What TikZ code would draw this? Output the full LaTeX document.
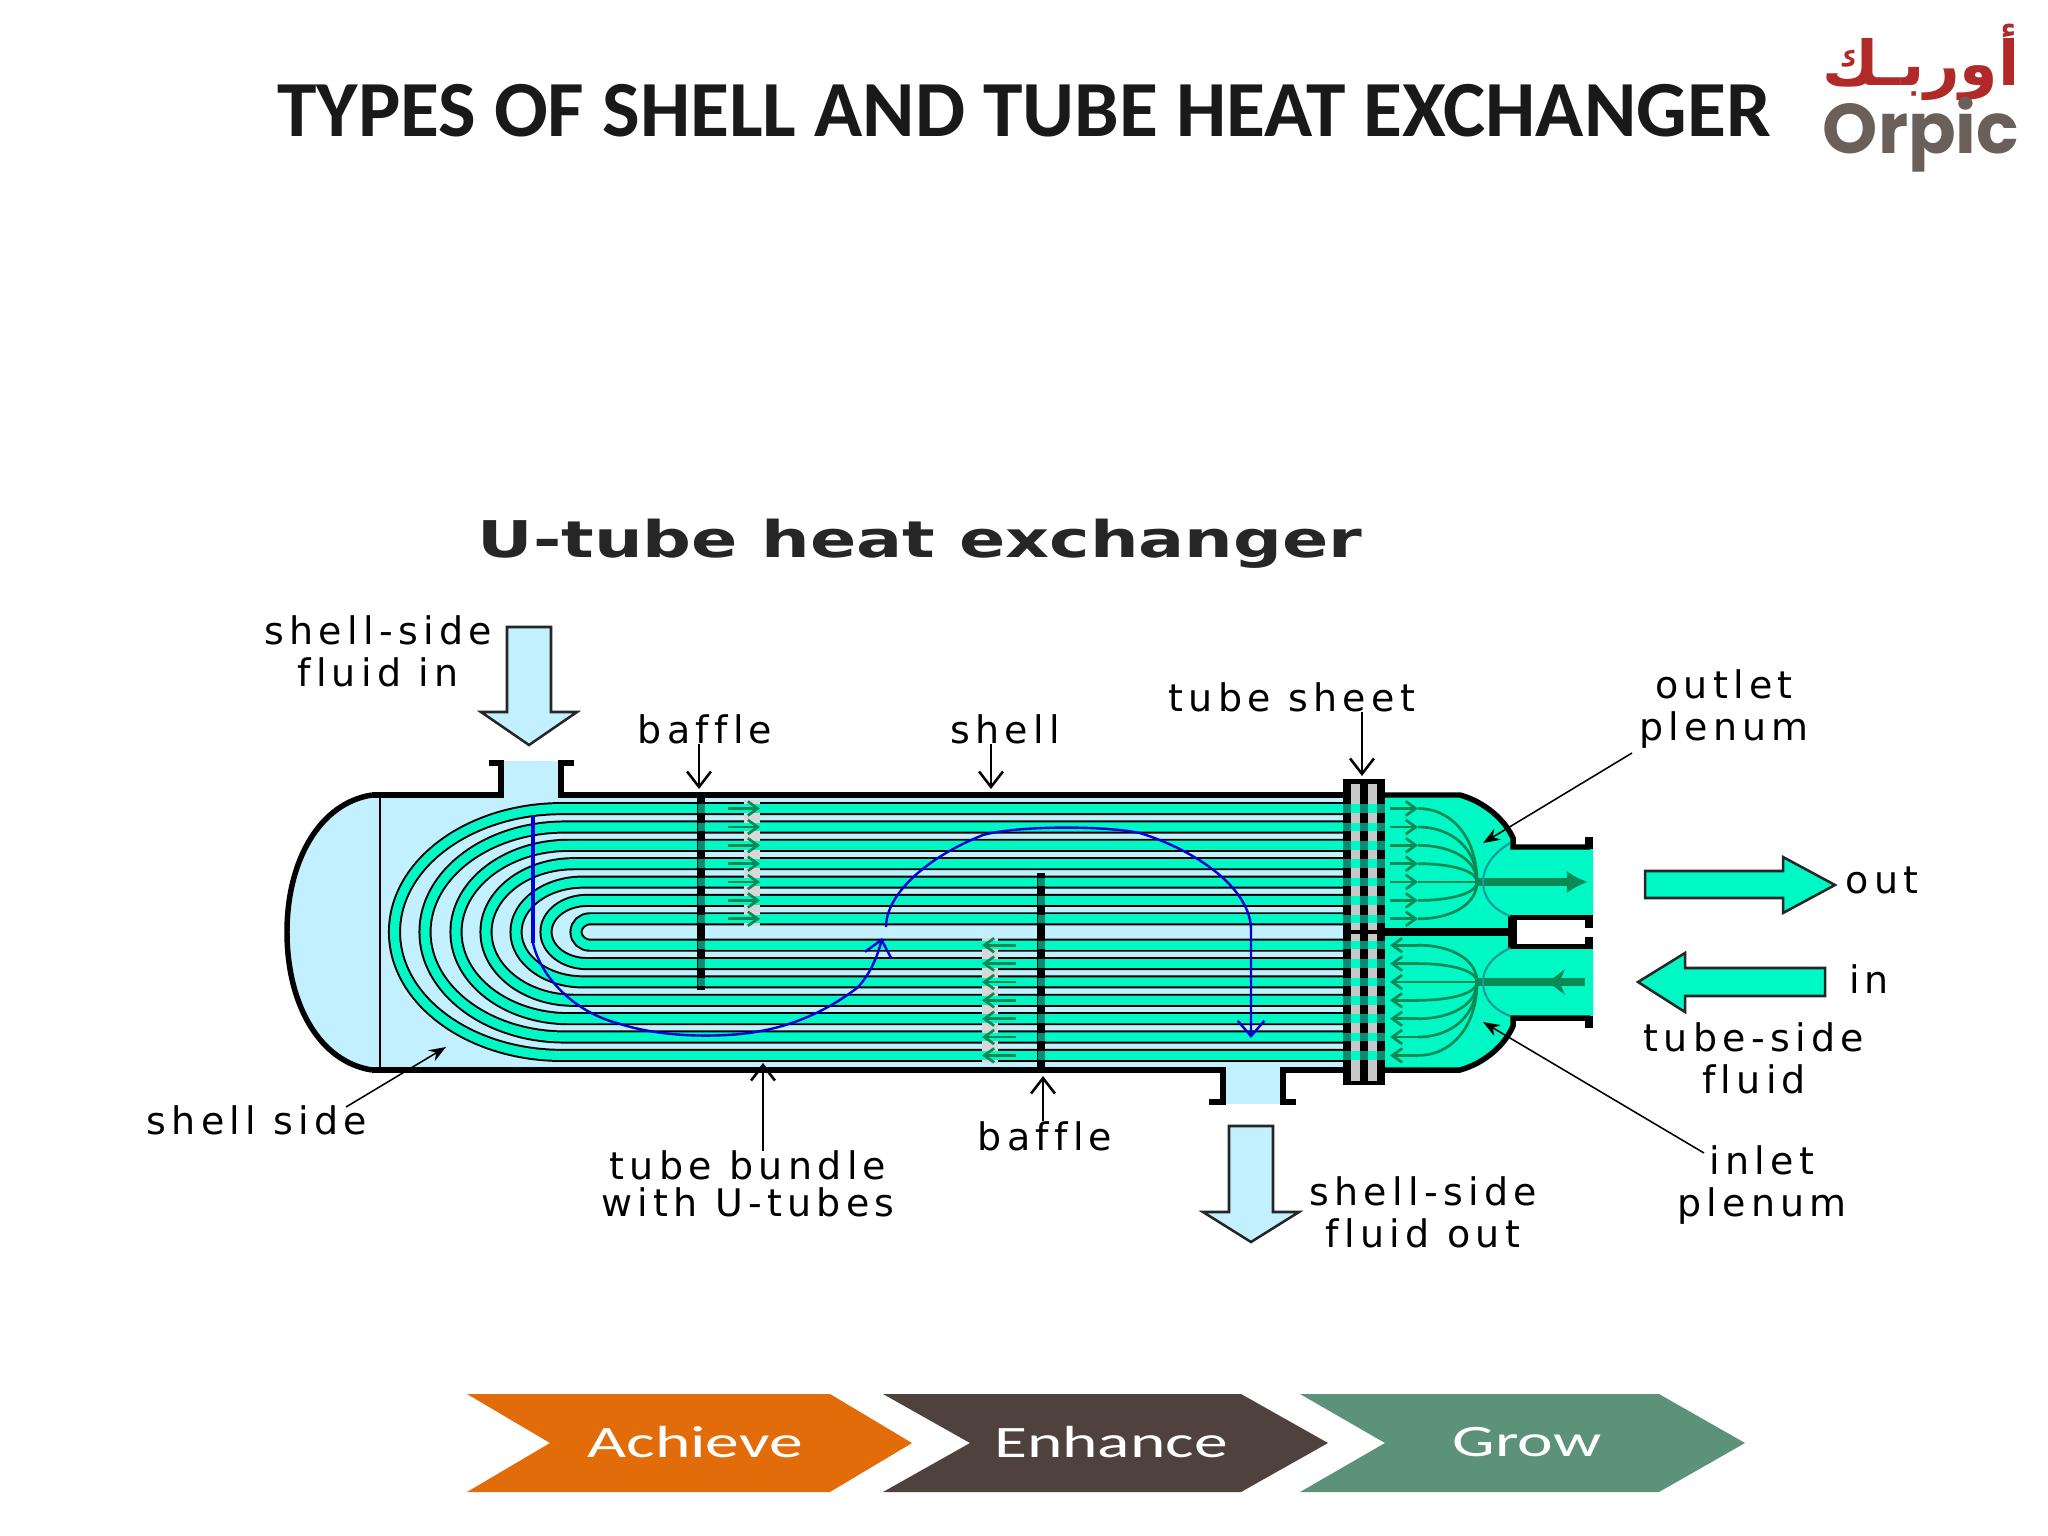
\documentclass[tikz,border=0pt]{standalone}
\usepackage{fontspec}
\usepackage{tikz}
\usetikzlibrary{arrows.meta, positioning, calc}
\TeXXeTstate=1
\newfontfamily\titlefont{Carlito}
\newfontfamily\labelfont[LetterSpace=14,Ligatures=NoCommon]{DejaVu Sans}
\newfontfamily\headfont{DejaVu Sans}
\newfontfamily\logofont{Poppins}
\newfontfamily\arabicfont[Script=Arabic]{DejaVu Sans}
\definecolor{shellblue}{HTML}{C2F0FF}
\definecolor{tubeteal}{HTML}{00F8C4}
\definecolor{darkteal}{HTML}{0A8A72}
\definecolor{flowgreen}{HTML}{0B8A55}
\definecolor{throatteal}{HTML}{1A9A96}
\definecolor{sheetgray}{HTML}{C8C8C8}
\definecolor{achievecol}{HTML}{E36C0A}
\definecolor{enhancecol}{HTML}{4F413D}
\definecolor{growcol}{HTML}{5B9279}
\definecolor{logored}{HTML}{B02A2A}
\definecolor{logogray}{HTML}{6B5F5A}
\def\upperrows{808.5,827,845.3,863.7,882,900.4,918.8}
\def\lowerrows{945.2,963.6,982,1000.3,1018.7,1037,1055.4}
% one U tube: straight start, x radius, y radius
\newcommand{\utube}[3]{(1343,{932-#3}) -- (#1,{932-#3})
  .. controls ({#1-0.5523*#2},{932-#3}) and ({#1-#2},{932-0.5523*#3}) .. ({#1-#2},932)
  .. controls ({#1-#2},{932+0.5523*#3}) and ({#1-0.5523*#2},{932+#3}) .. (#1,{932+#3})
  -- (1343,{932+#3})}
\begin{document}
\begin{tikzpicture}[
        x=0.25mm, y=-0.25mm,
        shellwall/.style={line width=3.9pt},
        bigarrow/.style={draw=black!85, line width=1.8pt},
        tubeedge/.style={line width=9.3pt, draw=black},
        tubecore/.style={line width=6.5pt, draw=tubeteal},
        rowband/.style={line width=6pt},
        flow/.style={line width=1.9pt, draw=flowgreen},
        flowhead/.style={-{Straight Barb[length=7pt, width=10pt]}},
        mainflow/.style={line width=5.5pt, draw=flowgreen},
        throat/.style={line width=1.5pt, draw=throatteal},
        stream/.style={draw=blue!85!black, line width=1.7pt},
        lead/.style={-{Straight Barb[length=11pt, width=17pt]}, line width=1.8pt},
        thinlead/.style={-{Stealth[length=12pt, width=9pt]}, line width=1.1pt},
        lbl/.style={font=\labelfont\fontsize{27}{30}\selectfont, align=center, text=black, inner sep=0pt},
        chevtext/.style={font=\titlefont\fontsize{32}{36}\selectfont, xscale=1.5, transform shape, text=white, inner sep=0pt}
    ]
        \useasboundingbox (0,0) rectangle (2048,1536);

        % Titles
        \node[font=\titlefont\bfseries\fontsize{56.6}{60}\selectfont, text=black!90, inner sep=0pt] (title) at (1024,111) {TYPES OF SHELL AND TUBE HEAT EXCHANGER};
        \node[font=\headfont\bfseries\fontsize{36}{40}\selectfont, xscale=1.35, transform shape, text=black!85, inner sep=0pt] (subtitle) at (920,544) {U-tube heat exchanger};

        % Logo
        \node[font=\arabicfont\bfseries\fontsize{44}{48}\selectfont, text=logored, inner sep=0pt] (logoar) at (1921,62) {\beginR أوربـك\endR};
        \node[font=\logofont\bfseries\fontsize{50}{54}\selectfont, text=logogray, inner sep=0pt] (logoen) at (1921,135) {Orpic};

        % Shell body
        \fill[shellblue] (372,795) .. controls (320,803) and (287,860) .. (287,932) .. controls (287,1005) and (320,1062) .. (372,1070) -- (1343,1070) -- (1343,795) -- cycle;
        \fill[shellblue] (501,761) rectangle (561,800);
        \fill[shellblue] (1223,1060) rectangle (1283,1104);

        % Tubes
        \foreach \sx/\a/\b in {562/167.5/123.4, 565/140/105, 569/113/86.7, 574/88/68.3, 583/67/49.9, 587/41/31.6, 590/14/13.2}{
            \draw[tubeedge] \utube{\sx}{\a}{\b};
            \draw[tubecore] \utube{\sx}{\a}{\b};
        }

        % Shell walls
        \draw[shellwall] (372,795) .. controls (320,803) and (287,860) .. (287,932) .. controls (287,1005) and (320,1062) .. (372,1070);
        \draw[line width=2pt] (380,795) -- (380,1070);
        \draw[shellwall] (372,795) -- (501,795) -- (501,763) -- (489,763);
        \draw[shellwall] (574,763) -- (561,763) -- (561,795) -- (1343,795);
        \draw[shellwall] (372,1070) -- (1223,1070) -- (1223,1102) -- (1209,1102);
        \draw[shellwall] (1296,1102) -- (1283,1102) -- (1283,1070) -- (1343,1070);

        % Baffles
        \draw[line width=5pt] (701,795) -- (701,990);
        \draw[line width=5pt] (1041,873) -- (1041,1070);
        \foreach \y in {808.5,827,845.3,863.7,882,900.4,918.8,945.2,963.6,982}
            \draw[rowband, darkteal] (697.5,\y) -- (704.5,\y);
        \foreach \y in {882,900.4,918.8,945.2,963.6,982,1000.3,1018.7,1037,1055.4}
            \draw[rowband, darkteal] (1037.5,\y) -- (1044.5,\y);

        % Small arrows beside the baffles
        \fill[sheetgray!70] (744,800) rectangle (760,926);
        \fill[sheetgray!70] (982,938) rectangle (998,1063);
        \foreach \y in \upperrows{
            \draw[rowband, tubeteal] (744,\y) -- (760,\y);
            \draw[flow, flowhead] (728,\y) -- (760,\y);
        }
        \foreach \y in \lowerrows{
            \draw[rowband, tubeteal] (982,\y) -- (998,\y);
            \draw[flow, flowhead] (1016,\y) -- (982,\y);
        }

        % Shell side stream
        \coordinate (streamstart) at (533,816);
        \coordinate (streambend) at (533,943);
        \coordinate (streamturn) at (886,927);
        \draw[stream, line width=2.6pt] (streamstart) -- (streambend);
        \draw[stream, -{Straight Barb[length=11pt, width=19pt]}] (streambend)
            .. controls (541,978) and (575,1012) .. (617,1023)
            .. controls (650,1034) and (690,1037) .. (727,1035)
            .. controls (770,1033) and (815,1020) .. (857,988)
            .. controls (870,975) and (878,955) .. (882,938);
        \draw[stream, -{Straight Barb[length=11pt, width=19pt]}] (streamturn) .. controls (886,895) and (925,858) .. (983,835)
            .. controls (1015,826) and (1100,825) .. (1140,833)
            .. controls (1200,852) and (1251,890) .. (1251,930) -- (1251,1038);

        % Tube sheet
        \fill[black] (1343,779) rectangle (1385,1085);
        \fill[sheetgray] (1351,784) rectangle (1360,930);
        \fill[sheetgray] (1368,784) rectangle (1377,930);
        \fill[sheetgray] (1351,934) rectangle (1360,1081);
        \fill[sheetgray] (1368,934) rectangle (1377,1081);
        \foreach \y in {808.5,827,845.3,863.7,882,900.4,918.8,945.2,963.6,982,1000.3,1018.7,1037,1055.4}{
            \draw[rowband, darkteal] (1343,\y) -- (1385,\y);
            \draw[rowband, tubeteal] (1351,\y) -- (1360,\y);
            \draw[rowband, tubeteal] (1368,\y) -- (1377,\y);
        }

        % Plenums
        \fill[tubeteal] (1385,795) -- (1460,795) .. controls (1485,802) and (1505,820) .. (1513,838) -- (1513,848) -- (1593,848) -- (1593,917) -- (1513,917) -- (1513,947) -- (1593,947) -- (1593,1017) -- (1513,1017) -- (1513,1026) .. controls (1505,1045) and (1485,1063) .. (1460,1070) -- (1385,1070) -- cycle;
        \draw[shellwall] (1385,795) -- (1460,795) .. controls (1485,802) and (1505,820) .. (1513,838) -- (1513,847) -- (1590,847);
        \draw[shellwall] (1385,1070) -- (1460,1070) .. controls (1485,1063) and (1505,1045) .. (1513,1026) -- (1513,1018) -- (1590,1018);
        \fill[black] (1585,837) rectangle (1593,849);
        \fill[black] (1585,1016) rectangle (1593,1028);
        \fill[black] (1385,928) rectangle (1510,936);
        \fill[black] (1508,915) rectangle (1593,920);
        \fill[black] (1508,944) rectangle (1593,949);
        \fill[black] (1508,915) rectangle (1517,949);
        \fill[black] (1585,915) rectangle (1593,928);
        \fill[black] (1585,937) rectangle (1593,949);

        % Plenum flow lines
        \foreach \y in \upperrows{
            \draw[flow, flowhead] (1390,\y) -- (1418,\y);
            \draw[flow] (1418,\y) .. controls (1452,\y) and (1477,{\y+0.4*(882-\y)}) .. (1477,882);
        }
        \foreach \y in \lowerrows{
            \draw[flow, flowhead] (1418,\y) -- (1390,\y);
            \draw[flow] (1477,982) .. controls (1477,{\y+0.4*(982-\y)}) and (1452,\y) .. (1418,\y);
        }
        \draw[mainflow, -{Latex[length=15pt, width=16pt]}] (1477,882) -- (1588,882);
        \draw[mainflow] (1585,982) -- (1477,982);
        \draw[flowgreen, line width=1.5pt, -{Stealth[length=12pt, width=18pt]}] (1570,982) -- (1548,982);
        \draw[throat] (1510,843) .. controls (1490,855) and (1483,870) .. (1483,882) .. controls (1483,895) and (1490,908) .. (1510,916);
        \draw[throat] (1510,948) .. controls (1490,958) and (1483,970) .. (1483,982) .. controls (1483,995) and (1490,1008) .. (1510,1016);

        % Big arrows
        \draw[bigarrow, fill=shellblue] (507,627) -- (551,627) -- (551,712) -- (577,712) -- (529,745) -- (481,712) -- (507,712) -- cycle;
        \draw[bigarrow, fill=shellblue] (1229,1126) -- (1273,1126) -- (1273,1212) -- (1299,1212) -- (1251,1242) -- (1203,1212) -- (1229,1212) -- cycle;
        \draw[bigarrow, fill=tubeteal] (1645,871) -- (1783,871) -- (1783,857) -- (1835,885) -- (1783,913) -- (1783,898) -- (1645,898) -- cycle;
        \draw[bigarrow, fill=tubeteal] (1825,968) -- (1685,968) -- (1685,953) -- (1638,982) -- (1685,1012) -- (1685,996) -- (1825,996) -- cycle;

        % Labels
        \node[lbl] (shellin) at (378,651) {shell-side\\fluid in};
        \node[lbl] (baffletop) at (705,729) {baffle};
        \node[lbl] (shelltop) at (1005,729) {shell};
        \node[lbl] (sheet) at (1292,697) {tube sheet};
        \node[lbl] (outlet) at (1724,709) {outlet\\plenum};
        \node[lbl] (outlbl) at (1882,880) {out};
        \node[lbl] (inlbl) at (1869,979) {in};
        \node[lbl] (tubeside) at (1754,1058) {tube-side\\fluid};
        \node[lbl] (inlet) at (1762,1185) {inlet\\plenum};
        \node[lbl] (shellside) at (257,1120) {shell side};
        \node[lbl] (bundle) at (748,1184) {tube bundle\\[-4pt]with U-tubes};
        \node[lbl] (bafflelow) at (1045,1136) {baffle};
        \node[lbl] (shellout) at (1423,1212) {shell-side\\fluid out};

        % Leaders
        \coordinate (baffletip) at (699,789);
        \coordinate (shelltip) at (991,789);
        \coordinate (sheettip) at (1362,776);
        \coordinate (outlettip) at (1483,843);
        \coordinate (outletfrom) at (1632,753);
        \coordinate (inlettip) at (1483,1022);
        \coordinate (inletfrom) at (1704,1153);
        \coordinate (sidetip) at (446,1047);
        \coordinate (sidefrom) at (346,1107);
        \coordinate (bundletip) at (763,1063);
        \coordinate (bafflelowtip) at (1043,1076);
        \draw[lead] (baffletip |- baffletop.south) -- (baffletip);
        \draw[lead] (shelltip |- shelltop.south) -- (shelltip);
        \draw[lead] (sheettip |- sheet.south) -- (sheettip);
        \draw[lead] (bundletip |- bundle.north) -- (bundletip);
        \draw[lead] (bafflelowtip |- bafflelow.north) -- (bafflelowtip);
        \draw[thinlead] (outletfrom) -- (outlettip);
        \draw[thinlead] (inletfrom) -- (inlettip);
        \draw[thinlead] (sidefrom) -- (sidetip);

        % Chevrons
        \fill[achievecol] (467,1394) -- (830,1394) -- (912,1443) -- (830,1492) -- (467,1492) -- (550,1443) -- cycle;
        \fill[enhancecol] (883,1394) -- (1241,1394) -- (1328,1443) -- (1241,1492) -- (883,1492) -- (970,1443) -- cycle;
        \fill[growcol] (1300,1394) -- (1659,1394) -- (1745,1443) -- (1659,1492) -- (1300,1492) -- (1385,1443) -- cycle;
        \node[chevtext] (achieve) at (695,1442) {Achieve};
        \node[chevtext] (enhance) at (1111,1442) {Enhance};
        \node[chevtext] (grow) at (1527,1442) {Grow};
    \end{tikzpicture}
\end{document}
